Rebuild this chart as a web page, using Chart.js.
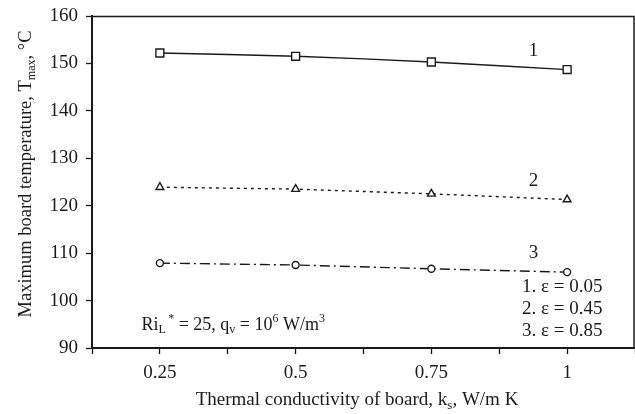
<!DOCTYPE html>
<html>
<head>
<meta charset="utf-8">
<script src="https://cdn.jsdelivr.net/npm/chart.js@4/dist/chart.umd.min.js"></script>
<style>
  html,body{margin:0;padding:0;background:#fff;overflow:hidden;}
  #wrap{width:635px;height:414px;position:relative;}
  canvas{display:block;}
</style>
</head>
<body>
<div id="wrap"><canvas id="c"></canvas></div>
<script>
// k_s values (W/m K) and max board temperature for each emissivity
const kVals   = [0.25, 0.5, 0.75, 1];
const tEps005 = [152.2, 151.5, 150.3, 148.7];
const tEps045 = [123.9, 123.5, 122.5, 121.3];
const tEps085 = [107.9, 107.5, 106.7, 106.0];
const xLabeled = [0.25, 0.5, 0.75, 1];
const legendLines = ['1. \u03b5 = 0.05', '2. \u03b5 = 0.45', '3. \u03b5 = 0.85'];

const SERIF = '"Liberation Serif", "Times New Roman", serif';
const INK = '#1a1a1a';

function pts(ys){ return kVals.map((k,i)=>({x:k, y:ys[i]})); }

// draw text with sub/superscripts; parts = [[text, 'n'|'sub'|'sup'], ...]
function rich(ctx, parts, x, y, size, align){
  const small = Math.round(size*0.66);
  const fontOf = t => (t==='n' ? size : small) + 'px ' + SERIF;
  let w = 0;
  parts.forEach(p=>{ ctx.font = fontOf(p[1]); w += ctx.measureText(p[0]).width; });
  let cx = align==='center' ? x - w/2 : (align==='right' ? x - w : x);
  ctx.textAlign = 'left';
  ctx.textBaseline = 'alphabetic';
  parts.forEach(p=>{
    ctx.font = fontOf(p[1]);
    let dy = 0;
    if(p[1]==='sub') dy = size*0.2;
    if(p[1]==='sup') dy = -size*0.4;
    ctx.fillText(p[0], cx, y+dy);
    cx += ctx.measureText(p[0]).width;
  });
}

const extras = {
  id:'extras',
  afterDraw(chart){
    const {ctx, chartArea:a, scales:{x, y}} = chart;
    ctx.save();
    // top and right frame
    ctx.strokeStyle = INK;
    ctx.lineWidth = 1.5;
    ctx.beginPath();
    ctx.moveTo(a.left, a.top+0.5);
    ctx.lineTo(a.right-1, a.top+0.5);
    ctx.lineTo(a.right-1, a.bottom);
    ctx.stroke();

    ctx.fillStyle = INK;
    // curve numbers
    ctx.font = '19px ' + SERIF;
    ctx.textAlign = 'center';
    ctx.textBaseline = 'middle';
    ctx.fillText('1', x.getPixelForValue(0.938), y.getPixelForValue(152.6));
    ctx.fillText('2', x.getPixelForValue(0.938), y.getPixelForValue(125.3));
    ctx.fillText('3', x.getPixelForValue(0.938), y.getPixelForValue(110.0));

    // emissivity legend
    ctx.textAlign = 'right';
    ctx.font = '19px ' + SERIF;
    legendLines.forEach((t,i)=>{
      ctx.fillText(t, x.getPixelForValue(1.065), y.getPixelForValue(102.8 - i*4.6));
    });

    // parameters note
    rich(ctx, [['Ri','n'],['L','sub'],['\u2009*','sup'],[' = 25, q','n'],['v','sub'],[' = 10','n'],['6','sup'],[' W/m','n'],['3','sup']],
      x.getPixelForValue(0.216), y.getPixelForValue(93.9), 18, 'left');

    // x axis title
    rich(ctx, [['Thermal conductivity of board, k','n'],['s','sub'],[', W/m K','n']],
      357, 405, 19, 'center');

    // y axis title (rotated)
    ctx.translate(31, 174);
    ctx.rotate(-Math.PI/2);
    rich(ctx, [['Maximum board temperature, T','n'],['max','sub'],[', \u00b0C','n']], 0, 0, 18.5, 'center');
    ctx.restore();
  }
};

new Chart(document.getElementById('c'), {
  type:'line',
  data:{
    datasets:[
      {label:'1', data:pts(tEps005), borderColor:INK, borderWidth:1.4, tension:0.3,
       pointStyle:'rect', radius:5.6, pointBorderWidth:1.4, pointBorderColor:INK, pointBackgroundColor:'#fff'},
      {label:'2', data:pts(tEps045), borderColor:INK, borderWidth:1.4, borderDash:[3,4],
       pointStyle:'triangle', radius:4.5, pointBorderWidth:1.4, pointBorderColor:INK, pointBackgroundColor:'#fff'},
      {label:'3', data:pts(tEps085), borderColor:INK, borderWidth:1.4, borderDash:[10,4,2,4],
       pointStyle:'circle', radius:3.5, pointBorderWidth:1.4, pointBorderColor:INK, pointBackgroundColor:'#fff'}
    ]
  },
  options:{
    responsive:true,
    maintainAspectRatio:false,
    animation:false,
    events:[],
    layout:{autoPadding:false, padding:{top:16, right:0, left:0, bottom:0}},
    plugins:{legend:{display:false}, tooltip:{enabled:false}},
    scales:{
      x:{
        type:'linear',
        min:0.125, max:1.125,
        afterFit(s){ s.height = 66; s.paddingLeft = 0; s.paddingRight = 0; },
        border:{display:true, color:INK, width:2},
        grid:{drawOnChartArea:false, drawTicks:true, tickLength:6, tickColor:INK, tickWidth:1.3},
        ticks:{
          stepSize:0.125,
          color:INK, padding:8,
          font:{family:SERIF, size:19},
          callback:v => xLabeled.includes(v) ? String(v) : ''
        }
      },
      y:{
        min:90, max:160,
        afterFit(s){ s.width = 92; s.paddingTop = 0; s.paddingBottom = 0; },
        border:{display:true, color:INK, width:2},
        grid:{drawOnChartArea:false, drawTicks:true, tickLength:6, tickColor:INK, tickWidth:1.3},
        ticks:{stepSize:10, color:INK, padding:8, font:{family:SERIF, size:19}}
      }
    }
  },
  plugins:[extras]
});
</script>
</body>
</html>
